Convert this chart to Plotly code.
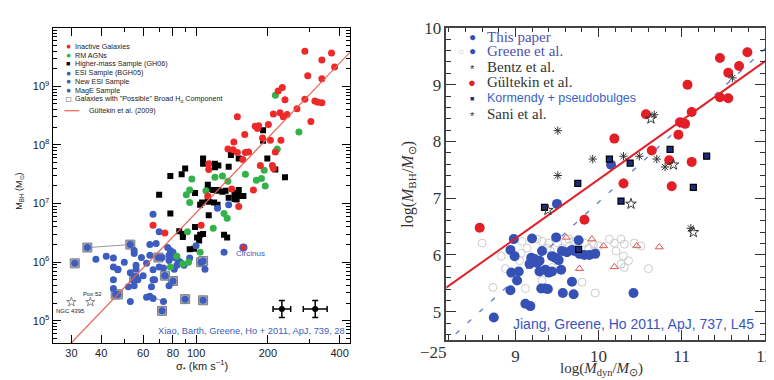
import numpy as np
import plotly.graph_objects as go

# ---------------- LEFT PANEL DATA (sigma in km/s, log M_BH) ----------------
inactive_sigma = [286, 370, 337, 294, 381, 337, 230, 221, 236, 286, 315, 324, 337, 265, 211, 225,
                  232, 241, 303, 149, 201, 177, 183, 181, 160, 190, 205, 227, 144, 136, 143, 149,
                  161, 166, 157, 215, 186, 113, 113, 209, 211, 141, 174, 112, 151, 66, 74, 105]
inactive_logM = [9.60, 9.57, 9.45, 9.18, 9.33, 9.13, 8.98, 8.92, 8.77, 8.78, 8.75, 8.73, 8.72, 8.62, 8.53, 8.55,
                 8.48, 8.52, 8.40, 8.48, 8.35, 8.32, 8.33, 8.28, 8.18, 8.12, 8.08, 8.08, 8.05, 7.93, 7.92, 7.87,
                 7.87, 7.88, 7.75, 7.88, 7.65, 7.68, 7.58, 7.65, 7.60, 7.25, 7.23, 7.13, 6.95, 6.63, 6.50, 6.63]
circinus_sigma = [158]
circinus_logM = [6.25]

rm_sigma = [215, 270, 219, 193, 188, 179, 161, 136, 120, 96, 195, 94, 129, 91, 110, 94, 131, 135,
            118, 92, 104, 83, 88, 93, 78]
rm_logM = [8.85, 8.22, 7.93, 7.57, 7.43, 7.40, 7.50, 7.38, 7.45, 7.42, 7.30, 7.23, 7.47, 7.15, 7.22, 7.02,
           6.83, 6.75, 6.58, 6.52, 6.17, 6.10, 5.97, 6.00, 5.92]

gh06_sigma = [191, 191, 140, 151, 199, 215, 236, 107, 107, 120, 124, 120, 137, 90, 87, 78, 112, 112, 118,
              124, 151, 70, 78, 99, 123, 129, 133, 112, 113, 119, 123, 104, 106, 113, 137, 145, 151, 158,
              145, 148, 85, 88, 88, 99, 101, 103, 104, 107, 94, 98, 131, 135]
gh06_logM = [8.25, 8.07, 7.83, 7.77, 7.77, 7.58, 7.45, 7.77, 7.68, 7.68, 7.65, 7.62, 7.63, 7.60, 7.50, 7.47,
             7.32, 7.25, 7.23, 7.23, 7.23, 7.15, 6.83, 7.18, 7.22, 7.20, 7.22, 7.08, 7.03, 7.02, 6.98, 6.98,
             7.02, 6.80, 7.10, 7.18, 7.13, 7.13, 7.08, 7.07, 6.53, 6.48, 6.43, 6.60, 6.42, 6.37, 6.47, 6.48,
             6.22, 6.23, 6.47, 6.42]

esi_sigma = [66, 70, 123, 137, 100, 131, 109, 94, 38, 42, 45, 45, 47, 47, 45, 50, 53, 55, 55, 56, 56, 56,
             59, 60, 55, 57, 52, 55, 53, 62, 64, 64, 68, 66, 66, 67, 65, 62, 64, 66, 72, 70, 73, 73, 74,
             77, 76, 78, 77, 80, 81, 84, 83, 81, 86, 89, 77, 45]
esi_logM = [6.82, 6.52, 6.92, 6.98, 6.28, 6.17, 5.88, 6.07, 6.05, 6.10, 6.07, 5.92, 5.88, 5.87, 5.70, 6.00,
            5.82, 6.20, 6.15, 5.95, 5.88, 5.75, 6.08, 5.77, 5.68, 5.70, 5.58, 5.60, 5.33, 5.98, 6.30, 6.12,
            6.32, 5.87, 5.70, 5.70, 5.58, 5.40, 5.42, 5.38, 6.08, 5.92, 5.90, 5.33, 5.77, 5.60, 6.25, 6.20,
            6.12, 6.17, 6.08, 6.03, 5.95, 5.88, 6.00, 5.95, 6.03, 5.55]

broad_sigma = [31, 35, 53, 46, 47, 55, 69.5, 74, 80, 90, 107, 72, 105, 107]
broad_logM = [5.98, 6.25, 6.30, 5.45, 5.45, 5.73, 6.08, 5.77, 5.68, 5.37, 5.35, 5.17, 6.00, 6.02]

link1_sigma = [35, 53]
link1_logM = [6.25, 6.30]
link2_sigma = [66, 73]
link2_logM = [5.40, 5.33]

star_sigma = [30, 36]
star_logM = [5.32, 5.32]
star_names = ["NGC 4395", "Pox 52"]

err_sigma = [229, 316]
err_logM = [5.20, 5.20]
err_sigma_dex = [0.037, 0.05]
err_logM_dex = [0.145, 0.145]

gultekin_a, gultekin_b, gultekin_s0 = 8.12, 4.24, 200.0

# ---------------- RIGHT PANEL DATA (log M_dyn, log M_BH) ----------------
this_x = [8.94, 8.99, 9.19, 9.23, 9.29, 9.26, 9.17, 9.32, 9.44, 9.48, 9.52, 9.56, 9.62, 9.68, 9.71, 9.77,
          9.83, 9.89, 9.96, 8.95, 9.04, 9.02, 9.29, 9.36, 9.40, 9.44, 9.55, 9.68, 8.94, 9.31, 9.36, 9.39,
          9.57, 9.70, 9.12, 9.18, 10.42, 9.50, 8.74, 8.98, 9.20, 9.49, 9.76, 10.15]
this_y = [6.09, 5.98, 5.95, 5.93, 5.90, 5.86, 5.84, 6.07, 5.98, 5.95, 5.91, 6.07, 6.05, 6.09, 6.07, 6.02,
          6.00, 6.00, 6.02, 5.69, 5.71, 5.55, 5.71, 5.74, 5.69, 5.71, 5.74, 5.53, 5.38, 5.41, 5.41, 5.40,
          5.33, 5.31, 5.14, 5.10, 5.33, 6.90, 4.90, 6.28, 6.29, 6.31, 6.26, 7.59]

greene_open_x = [8.60, 8.73, 8.88, 8.83, 9.08, 9.14, 9.07, 9.12, 9.26, 9.32, 9.40, 9.38, 9.42, 9.51, 9.56,
                 9.64, 9.70, 9.65, 9.83, 9.88, 9.94, 10.00, 9.95, 10.13, 10.19, 10.27, 10.31, 10.21, 10.30,
                 10.36, 10.27, 10.31, 10.43, 10.51, 10.60, 9.30, 9.32, 9.44, 9.80, 9.96, 9.05, 8.99]
greene_open_y = [6.21, 5.43, 5.76, 5.98, 6.24, 6.12, 6.03, 5.41, 6.28, 6.24, 6.21, 6.12, 6.07, 6.21, 6.12,
                 6.28, 6.24, 6.16, 6.21, 6.12, 6.19, 6.16, 6.07, 6.28, 6.21, 6.28, 6.19, 6.07, 5.98,
                 5.90, 5.84, 5.78, 6.21, 6.16, 5.76, 5.72, 5.55, 5.78, 5.52, 5.33, 5.90, 5.60]

tri_x = [9.61, 9.92, 10.06, 10.46, 10.73, 9.77, 10.19]
tri_y = [6.31, 6.28, 6.16, 6.16, 6.14, 5.76, 5.79]

gult_x = [11.79, 11.46, 11.69, 11.56, 11.07, 11.46, 11.56, 10.57, 11.12, 10.98, 11.04, 10.96, 10.19, 10.64,
          10.85, 11.12, 10.30, 10.88, 9.83, 8.57]
gult_y = [9.57, 9.47, 9.33, 9.21, 9.00, 8.78, 8.76, 8.48, 8.52, 8.34, 8.31, 8.12, 8.05, 7.84,
          7.67, 7.64, 7.26, 7.21, 6.62, 6.48]

korm_x = [9.75, 10.13, 10.38, 10.86, 11.30, 11.14, 10.27, 9.35, 9.76]
korm_y = [7.26, 7.69, 7.62, 7.86, 7.74, 7.19, 6.95, 6.84, 6.10]

bentz_x = [9.51, 9.51, 9.93, 10.30, 10.49, 10.70, 10.80, 10.67, 11.61, 11.11]
bentz_y = [8.19, 7.40, 7.69, 7.74, 7.74, 7.69, 7.55, 8.47, 9.12, 6.47]

sani_x = [10.63, 10.90, 10.39, 9.39, 11.14]
sani_y = [8.40, 7.59, 6.90, 6.79, 6.40]

fit_red_c, fit_red_m = 7.33, 1.04
fit_blue_c, fit_blue_m = 6.93, 1.35

# ---------------- colours ----------------
RED = "#ec2a2a"
GREEN = "#34b24a"
BLUE = "#3d5cc0"
RRED = "#e31e26"
RBLUE = "#3551b5"

W, H = 774, 380


def px(x):
    return x / W


def py(y):
    return 1 - y / H


fig = go.Figure()
L = dict(xaxis="x", yaxis="y")
R = dict(xaxis="x2", yaxis="y2")


def pw(v):
    return [10 ** a for a in v]


# left panel traces
fig.add_trace(go.Scatter(x=link1_sigma, y=pw(link1_logM), mode="lines",
                         line=dict(color="#999999", width=1), **L))
fig.add_trace(go.Scatter(x=link2_sigma, y=pw(link2_logM), mode="lines",
                         line=dict(color="#999999", width=1), **L))
fig.add_trace(go.Scatter(x=broad_sigma, y=pw(broad_logM), mode="markers",
                         marker=dict(symbol="square", size=9, color="#a4a6b8",
                                     line=dict(color="#808080", width=1)), **L))
fig.add_trace(go.Scatter(x=gh06_sigma, y=pw(gh06_logM), mode="markers",
                         marker=dict(symbol="square", size=6, color="black"), **L))
fig.add_trace(go.Scatter(x=esi_sigma + broad_sigma, y=pw(esi_logM + broad_logM), mode="markers",
                         marker=dict(symbol="circle", size=7, color=BLUE), **L))
fig.add_trace(go.Scatter(x=rm_sigma, y=pw(rm_logM), mode="markers",
                         marker=dict(symbol="circle", size=7, color=GREEN), **L))
fig.add_trace(go.Scatter(x=inactive_sigma, y=pw(inactive_logM), mode="markers",
                         marker=dict(symbol="circle", size=7, color=RED), **L))
fig.add_trace(go.Scatter(x=circinus_sigma, y=pw(circinus_logM), mode="markers",
                         marker=dict(symbol="circle", size=7, color=RED,
                                     line=dict(color=BLUE, width=1.2)), **L))
fig.add_trace(go.Scatter(x=star_sigma, y=pw(star_logM), mode="markers",
                         marker=dict(symbol="star-open", size=7, color="#888888",
                                     line=dict(width=1)), **L))
s = np.array(err_sigma, float)
sd = np.array(err_sigma_dex)
m = np.array(err_logM)
md = np.array(err_logM_dex)
fig.add_trace(go.Scatter(
    x=s, y=10 ** m, mode="markers",
    marker=dict(symbol="circle", size=6, color="black"),
    error_x=dict(type="data", symmetric=False, array=s * (10 ** sd - 1), arrayminus=s * (1 - 10 ** -sd),
                 color="black", thickness=1.5, width=3),
    error_y=dict(type="data", symmetric=False, array=10 ** m * (10 ** md - 1),
                 arrayminus=10 ** m * (1 - 10 ** -md), color="black", thickness=1.5, width=3),
    **L))
sig_line = np.array([24.0, 460.0])
fig.add_trace(go.Scatter(x=sig_line, y=10 ** (gultekin_a + gultekin_b * np.log10(sig_line / gultekin_s0)),
                         mode="lines", line=dict(color="#e8604f", width=1.2), **L))

# right panel traces
xl = np.array([8.0, 12.2])
fig.add_trace(go.Scatter(x=greene_open_x, y=greene_open_y, mode="markers",
                         marker=dict(symbol="circle-open", size=8, color="#cccccc", line=dict(width=1)), **R))
fig.add_trace(go.Scatter(x=tri_x, y=tri_y, mode="markers",
                         marker=dict(symbol="triangle-up-open", size=7, color="#d9574f", line=dict(width=1)), **R))
fig.add_trace(go.Scatter(x=xl, y=fit_blue_c + fit_blue_m * (xl - 10), mode="lines",
                         line=dict(color="#6b7fd2", width=1.4, dash="5px,11px"), **R))
fig.add_trace(go.Scatter(x=this_x, y=this_y, mode="markers",
                         marker=dict(symbol="circle", size=10, color=RBLUE), **R))
fig.add_trace(go.Scatter(x=xl, y=fit_red_c + fit_red_m * (xl - 10), mode="lines",
                         line=dict(color="#e02027", width=2), **R))
fig.add_trace(go.Scatter(x=gult_x, y=gult_y, mode="markers",
                         marker=dict(symbol="circle", size=10, color=RRED), **R))
fig.add_trace(go.Scatter(x=korm_x, y=korm_y, mode="markers",
                         marker=dict(symbol="square", size=6, color="#1d2b7d",
                                     line=dict(color="black", width=1.2)), **R))
fig.add_trace(go.Scatter(x=bentz_x, y=bentz_y, mode="markers",
                         marker=dict(symbol="asterisk-open", size=7, color="#333333", line=dict(width=1)), **R))
fig.add_trace(go.Scatter(x=sani_x, y=sani_y, mode="markers",
                         marker=dict(symbol="star-open", size=8, color="#333333", line=dict(width=1)), **R))

# ---------------- axes ----------------
ldom_x = [px(45), px(346)]
ldom_y = [py(334), py(11)]
rdom_x = [px(443), px(765)]
rdom_y = [py(331), py(11)]

minor_y = [k * 10 ** e for e in range(4, 10) for k in range(2, 10)]
lfont = dict(family="Liberation Sans, Arial", size=11, color="#222222")
rfont = dict(family="Liberation Serif, Times New Roman", size=17, color="#333333")

fig.update_layout(
    width=W, height=H, margin=dict(l=0, r=0, t=0, b=0),
    paper_bgcolor="white", plot_bgcolor="white", showlegend=False,
    xaxis=dict(type="log", range=[np.log10(25), np.log10(444)], domain=ldom_x, anchor="y",
               tickvals=[30, 40, 60, 80, 100, 200, 400], ticks="inside", ticklen=8, tickwidth=1,
               tickcolor="black", showline=True, linecolor="black", linewidth=1, mirror="allticks",
               showgrid=False, zeroline=False, tickfont=lfont,
               minor=dict(tickvals=[50, 70, 90, 300], ticks="inside", ticklen=4, tickcolor="black")),
    yaxis=dict(type="log", range=[4.62, 10.0], domain=ldom_y, anchor="x",
               tickvals=[1e5, 1e6, 1e7, 1e8, 1e9],
               ticktext=["10<sup>5</sup>", "10<sup>6</sup>", "10<sup>7</sup>", "10<sup>8</sup>", "10<sup>9</sup>"],
               ticks="inside", ticklen=8, tickcolor="black", showline=True, linecolor="black", linewidth=1,
               mirror="allticks", showgrid=False, zeroline=False, tickfont=lfont,
               minor=dict(tickvals=minor_y, ticks="inside", ticklen=4, tickcolor="black")),
    xaxis2=dict(range=[8.17, 12.003], domain=rdom_x, anchor="y2",
                tickvals=[9, 10, 11, 12], ticks="inside", ticklen=10, tickwidth=1.2, tickcolor="#333333",
                showline=True, linecolor="#444444", linewidth=1.5, mirror="allticks", showgrid=False,
                zeroline=False, tickfont=rfont,
                minor=dict(dtick=0.2, tick0=0, ticks="inside", ticklen=5, tickcolor="#333333")),
    yaxis2=dict(range=[4.5, 10.003], domain=rdom_y, anchor="x2",
                tickvals=[5, 6, 7, 8, 9, 10], ticks="inside", ticklen=10, tickwidth=1.2, tickcolor="#333333",
                showline=True, linecolor="#444444", linewidth=1.5, mirror="allticks", showgrid=False,
                zeroline=False, tickfont=rfont,
                minor=dict(dtick=0.2, tick0=0, ticks="inside", ticklen=5, tickcolor="#333333")),
)

ann = []


def text(x, y, t, size, color="#222222", family="Liberation Sans, Arial", xanchor="left", angle=0):
    ann.append(dict(x=px(x), y=py(y), xref="paper", yref="paper", text=t, showarrow=False,
                    xanchor=xanchor, yanchor="middle", textangle=angle,
                    font=dict(size=size, color=color, family=family)))


# left legend
leg_rows = [("●", RED, "Inactive Galaxies"),
            ("●", GREEN, "RM AGNs"),
            ("■", "black", "Higher-mass Sample (GH06)"),
            ("●", BLUE, "ESI Sample (BGH05)"),
            ("●", BLUE, "New ESI Sample"),
            ("●", BLUE, "MagE Sample"),
            ("□", "black", "Galaxies with \"Possible\" Broad H<sub>α</sub> Component")]
for i, (g, c, t) in enumerate(leg_rows):
    yy = 30 + 9 * i
    text(61, yy, g, 8.5 if g != "■" else 7, color=c, xanchor="center")
    text(66, yy, t, 7.2)
text(80, 96, "Gültekin et al. (2009)", 7.2)
shapes = [dict(type="line", xref="paper", yref="paper", x0=px(57), x1=px(72), y0=py(96), y1=py(96),
               line=dict(color="#e8604f", width=1.2))]

# left annotations
text(74, 284, "Pox 52", 6)
text(63, 301, "NGC 4395", 6, xanchor="center")
text(228, 242, "Circinus", 8, color=BLUE)
text(246, 322, "Xiao, Barth, Greene, Ho + 2011, ApJ, 739, 28", 9.3, color=BLUE, xanchor="center")
text(12, 178, "M<sub>BH</sub> (M<sub>⊙</sub>)", 9, xanchor="center", angle=-90)
text(196, 357, "σ<sub>*</sub> (km s<sup>−1</sup>)", 11, xanchor="center")

# right legend
SERIF = "Liberation Serif, Times New Roman"
LF = 15
text(469, 20, "●", 12, color=RBLUE, xanchor="center")
text(482, 20, "This paper", LF, color="#5050b0", family=SERIF)
text(458, 35, "○", 10, color="#c8c8c8", xanchor="center")
text(469, 35, "●", 12, color=RBLUE, xanchor="center")
text(482, 35, "Greene et al.", LF, color="#5050b0", family=SERIF)
text(469, 53, "*", 11, color="#333333", xanchor="center")
text(482, 51, "Bentz et al.", LF, color="#333333", family=SERIF)
text(469, 67, "●", 13, color=RRED, xanchor="center")
text(482, 67, "Gültekin et al.", LF, color="#333333", family=SERIF)
text(469, 83, "■", 7, color="#1d2b7d", xanchor="center")
text(482, 83, "Kormendy + pseudobulges", 12.5, color="#3a5fcd")
text(469, 101, "*", 11, color="#333333", xanchor="center")
text(482, 99, "Sani et al.", LF, color="#333333", family=SERIF)

text(632, 314, "Jiang, Greene, Ho 2011, ApJ, 737, L45", 14, color="#3a55c0", xanchor="center")
text(430, 344, "−25", 17, color="#333333", family=SERIF, xanchor="center")
text(405, 171, "log(<i>M</i><sub>BH</sub>/<i>M</i><sub>⊙</sub>)", 16, color="#333333", family=SERIF,
     xanchor="center", angle=-90)
text(600, 361, "log(<i>M</i><sub>dyn</sub>/<i>M</i><sub>⊙</sub>)", 15, color="#333333", family=SERIF,
     xanchor="center")

fig.update_layout(annotations=ann, shapes=shapes)
fig.write_html("out.html")
